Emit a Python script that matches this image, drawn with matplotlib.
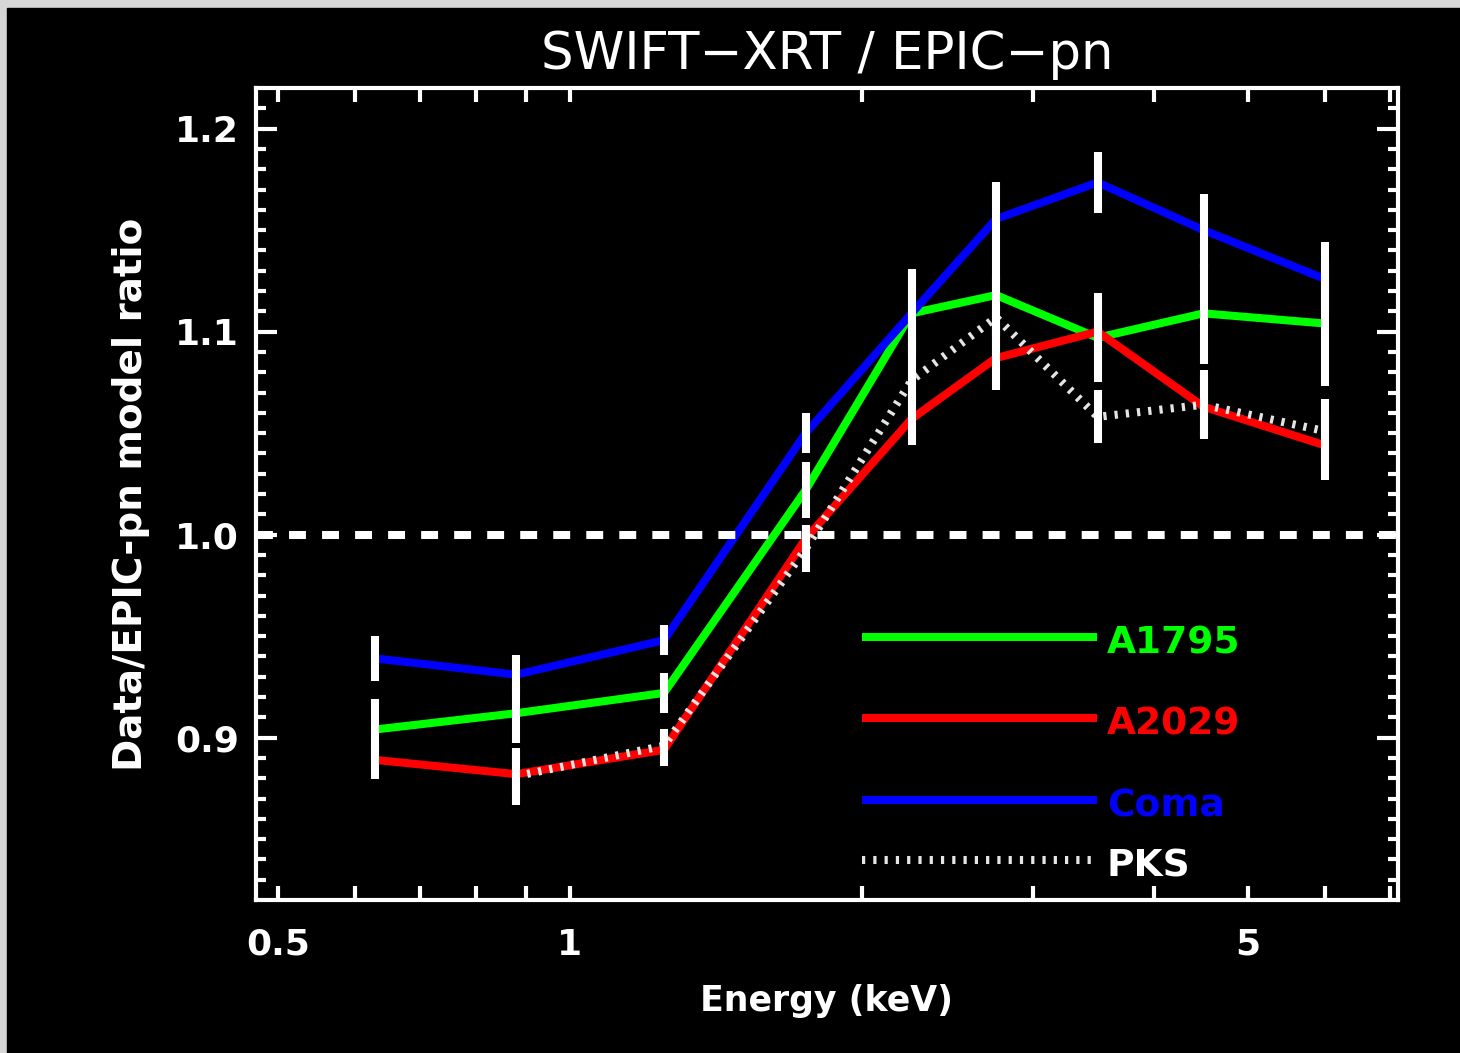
import numpy as np
import matplotlib.pyplot as plt
from matplotlib.patches import Rectangle
from matplotlib.ticker import FixedLocator, FixedFormatter, NullFormatter

# ---- data ----
energy = [0.63, 0.88, 1.25, 1.75, 2.25, 2.75, 3.5, 4.5, 6.0]

a1795     = [0.904, 0.912, 0.922, 1.022, 1.109, 1.118, 1.097, 1.109, 1.104]
a1795_err = [0.015, 0.0145, 0.010, 0.014, 0.020, 0.020, 0.022, 0.025, 0.031]

a2029     = [0.889, 0.882, 0.894, 0.998, 1.057, 1.087, 1.100, 1.063, 1.044]
a2029_err = [0.0095, 0.010, 0.008, 0.0065, 0.013, 0.016, 0.015, 0.015, 0.017]

coma      = [0.939, 0.931, 0.948, 1.050, 1.109, 1.1555, 1.1735, 1.150, 1.126]
coma_err  = [0.011, 0.0095, 0.0075, 0.010, 0.022, 0.018, 0.015, 0.018, 0.018]

pks       = [np.nan, 0.881, 0.896, 0.993, 1.076, 1.107, 1.058, 1.064, 1.051]
pks_err   = [np.nan, 0.014, 0.008, 0.0115, 0.020, 0.020, 0.013, 0.017, 0.016]

names  = ["A1795", "A2029", "Coma", "PKS"]
colors = ["#00ff00", "#ff0000", "#0000ff", "#e4e4e4"]

xmajor = [0.5, 1, 5]
xmajor_labels = ["0.5", "1", "5"]
xminor = [0.6, 0.7, 0.8, 0.9, 2, 3, 4, 6, 7]

LW = 5.8            # ~8 px
DOTS = (0, (0.4, 1.0))

fig = plt.figure(figsize=(14.6, 10.53), dpi=100, facecolor="#d6d6d6")
fig.patches.append(Rectangle((7 / 1460, 0), 1, 1 - 8 / 1053,
                             transform=fig.transFigure, color="black", zorder=-10))
ax = fig.add_axes([0.1753, 0.1453, 0.7822, 0.7711])
ax.set_facecolor("black")

series = [a1795, a2029, coma, pks]
errs = [a1795_err, a2029_err, coma_err, pks_err]
for name, y, c in zip(names, series, colors):
    ls = DOTS if name == "PKS" else "-"
    ax.plot(energy, y, color=c, lw=LW, ls=ls, solid_capstyle="butt", zorder=3)

for y, e in zip(series, errs):
    ax.errorbar(energy, y, yerr=e, fmt="none", ecolor="white",
                elinewidth=LW, capsize=0, zorder=5)

ax.axhline(1.0, color="white", lw=LW, ls=(0, (2.1, 2.0)), zorder=4)

ax.set_xscale("log")
ax.set_xlim(0.4745, 7.14)
ax.set_ylim(0.82, 1.22)

ax.xaxis.set_major_locator(FixedLocator(xmajor))
ax.xaxis.set_major_formatter(FixedFormatter(xmajor_labels))
ax.xaxis.set_minor_locator(FixedLocator(xminor))
ax.xaxis.set_minor_formatter(NullFormatter())
ax.yaxis.set_major_locator(FixedLocator([0.9, 1.0, 1.1, 1.2]))
ax.yaxis.set_minor_locator(FixedLocator(np.arange(0.83, 1.22, 0.01)))
ax.set_yticklabels(["0.9", "1.0", "1.1", "1.2"])

for s in ax.spines.values():
    s.set_color("white")
    s.set_linewidth(3)
ax.tick_params(axis="x", which="both", direction="in", top=True, length=10,
               width=3, color="white", labelcolor="white", labelsize=26, pad=20)
ax.tick_params(axis="y", which="major", direction="in", right=True, length=15,
               width=3, color="white", labelcolor="white", labelsize=26, pad=12)
ax.tick_params(axis="y", which="minor", direction="in", right=True, length=7,
               width=3, color="white")
for lab in ax.get_xticklabels() + ax.get_yticklabels():
    lab.set_fontweight("bold")

ax.set_xlabel("Energy (keV)", color="white", fontsize=25, fontweight="bold", labelpad=16)
ax.set_ylabel("Data/EPIC-pn model ratio", color="white", fontsize=28,
              fontweight="bold", labelpad=18)
ax.set_title("SWIFT\u2212XRT / EPIC\u2212pn", color="white", fontsize=37, pad=14)

# legend drawn by hand (rows are unevenly spaced in the original)
leg_rows = [0.324, 0.224, 0.123, 0.049]
for name, c, yr in zip(names, colors, leg_rows):
    ls = DOTS if name == "PKS" else "-"
    ax.plot([0.5307, 0.7364], [yr, yr], transform=ax.transAxes, color=c, lw=LW,
            ls=ls, solid_capstyle="butt", zorder=6)
    ax.text(0.7452, yr - 0.008, name, transform=ax.transAxes,
            color=c if name != "PKS" else "white",
            fontsize=27, fontweight="bold", va="center", ha="left", zorder=6)

fig.savefig("out.png", dpi=100, facecolor=fig.get_facecolor())
